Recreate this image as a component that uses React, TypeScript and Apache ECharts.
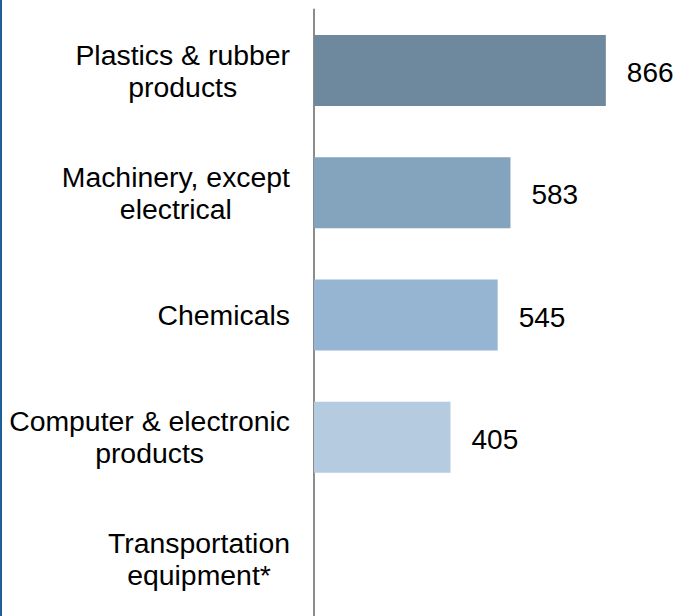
import React, { useEffect, useRef } from "react";
import * as echarts from "echarts";

const categoryLines: string[][] = [
  ["Plastics & rubber", "products"],
  ["Machinery, except", "electrical"],
  ["Chemicals"],
  ["Computer & electronic", "products"],
  ["Transportation", "equipment*"],
];
const categories: string[] = categoryLines.map((l) => l.join("\n"));
const values: (number | null)[] = [866, 583, 545, 405, null];
const barColors: string[] = ["#6E899E", "#84A3BD", "#95B5D2", "#B4CBE0", "#B4CBE0"];

export default function App() {
  const ref = useRef<HTMLDivElement>(null);
  useEffect(() => {
    document.body.style.margin = "0";
    document.body.style.overflow = "hidden";
    const chart = echarts.init(ref.current!, undefined, { renderer: "svg" });
    chart.setOption({
      animation: false,
      backgroundColor: "#ffffff",
      textStyle: { fontFamily: "Liberation Sans, Arial, sans-serif" },
      grid: { left: 314, right: 24, top: 9.5, height: 611, containLabel: false },
      xAxis: {
        type: "value",
        min: 0,
        max: 1000,
        show: false,
      },
      yAxis: {
        type: "category",
        inverse: true,
        data: categories,
        axisLine: { show: true, lineStyle: { color: "#8C8C8C", width: 2 } },
        axisTick: { show: false },
        splitLine: { show: false },
        axisLabel: {
          margin: 24,
          formatter: (v: string) =>
            v
              .split("\n")
              .map((s) => "{c|" + s + "}")
              .join("\n"),
          rich: {
            c: {
              align: "center",
              fontSize: 28.4,
              lineHeight: 32,
              color: "#000000",
              fontFamily: "Liberation Sans, Arial, sans-serif",
            },
          },
        },
      },
      graphic: [
        {
          type: "rect",
          shape: { x: 0, y: 0, width: 2, height: 630 },
          style: { fill: "#1F5F99" },
        },
      ],
      series: [
        {
          type: "bar",
          barWidth: 71,
          data: values.map((v, i) => ({
            value: v,
            itemStyle: { color: barColors[i] },
          })),
          label: {
            show: true,
            position: "right",
            distance: 21,
            offset: [0, 2],
            fontSize: 28,
            color: "#000000",
            fontFamily: "Liberation Sans, Arial, sans-serif",
          },
        },
      ],
    });
    return () => chart.dispose();
  }, []);
  return (
    <div
      ref={ref}
      style={{ position: "fixed", left: 0, top: 0, width: 675, height: 630 }}
    />
  );
}
